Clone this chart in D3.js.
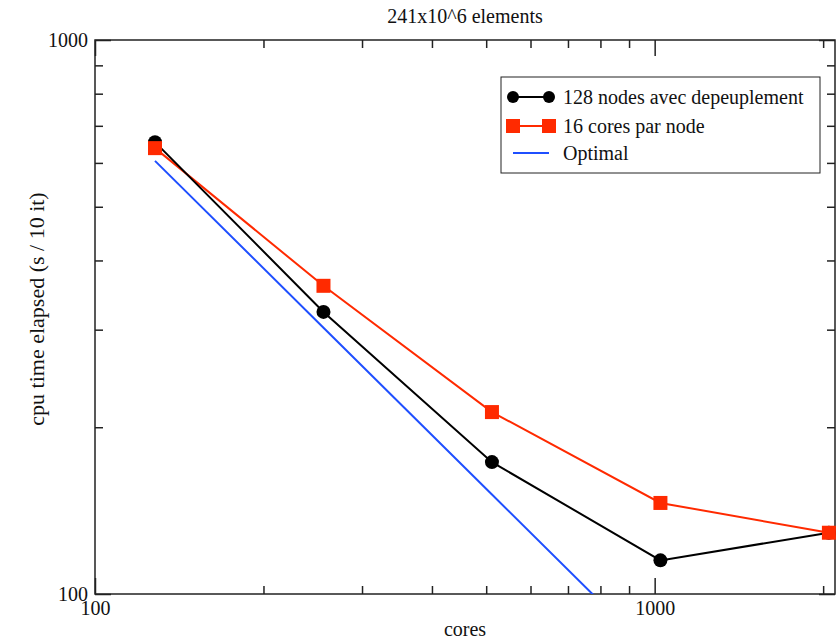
<!DOCTYPE html>
<html>
<head>
<meta charset="utf-8">
<script src="https://cdn.jsdelivr.net/npm/d3@7"></script>
<style>
  body { margin: 0; background: #fff; }
  svg text { font-family: "Liberation Serif", "Times New Roman", serif; fill: #111; }
</style>
</head>
<body>
<div class="plot"></div>
<script>
// data
const cores = [128, 256, 512, 1024, 2048];
const depeuplement = [654, 323, 173, 115, 129];   // 128 nodes avec depeuplement
const fullNode = [638, 360, 213, 146, 129];        // 16 cores par node
const optimal = [605, 302.5, 151.2, 75.6, 37.8];   // Optimal
const seriesNames = ["128 nodes avec depeuplement", "16 cores par node", "Optimal"];
const majorTicks = [100, 1000];
const xMinor = [200, 300, 400, 500, 600, 700, 800, 900, 2000];
const yMinor = [200, 300, 400, 500, 600, 700, 800, 900];

const W = 836, H = 640;
const margin = {top: 40, right: 1, bottom: 46, left: 95};

const svg = d3.select(".plot")
    .append("svg")
        .attr("width", W)
        .attr("height", H);

const x = d3.scaleLog().domain([100, 2100]).range([margin.left, W - margin.right]);
const y = d3.scaleLog().domain([100, 1000]).range([H - margin.bottom, margin.top]);

const red = "#ff2a00", blue = "#1f4fff";

svg.append("clipPath").attr("id", "clip")
    .append("rect")
        .attr("x", x.range()[0]).attr("y", y.range()[1])
        .attr("width", x.range()[1] - x.range()[0])
        .attr("height", y.range()[0] - y.range()[1]);

// axes, ticks pointing inward
const addAxis = function(axis, tx, ty, vals, size, labels) {
    const g = svg.append("g")
        .attr("transform", "translate(" + tx + "," + ty + ")")
        .call(axis.tickValues(vals).tickSize(size).tickPadding(labels ? 9 : 0)
            .tickFormat(labels ? d3.format("d") : ""));
    g.select(".domain").remove();
    g.selectAll("line").attr("stroke", "#222").attr("stroke-width", 1.5);
    g.selectAll("text").style("font-size", "20px").attr("font-family", null);
    return g;
};
const yb = y.range()[0], yt = y.range()[1], xl = x.range()[0], xr = x.range()[1];

addAxis(d3.axisBottom(x), 0, yb, xMinor, -8, false);
const xLab = addAxis(d3.axisBottom(x), 0, yb, majorTicks, -16, true);
xLab.selectAll("text").attr("y", 7);
addAxis(d3.axisTop(x), 0, yt, xMinor, -8, false);
addAxis(d3.axisTop(x), 0, yt, majorTicks, -16, false);
addAxis(d3.axisLeft(y), xl, 0, yMinor, -8, false);
const yLab = addAxis(d3.axisLeft(y), xl, 0, majorTicks, -16, true);
yLab.selectAll("text").attr("x", -7);
addAxis(d3.axisRight(y), xr, 0, yMinor, -8, false);
addAxis(d3.axisRight(y), xr, 0, majorTicks, -16, false);

// frame
svg.append("rect")
    .attr("x", xl).attr("y", yt)
    .attr("width", xr - xl).attr("height", yb - yt)
    .attr("fill", "none").attr("stroke", "#222").attr("stroke-width", 1.5);

// lines
const line = d3.line().x(d => x(d[0])).y(d => y(d[1]));
const plot = svg.append("g").attr("clip-path", "url(#clip)");

plot.append("path")
    .datum(d3.zip(cores, optimal))
    .attr("d", line).attr("fill", "none")
    .attr("stroke", blue).attr("stroke-width", 2);

plot.append("path")
    .datum(d3.zip(cores, fullNode))
    .attr("d", line).attr("fill", "none")
    .attr("stroke", red).attr("stroke-width", 2);

plot.append("path")
    .datum(d3.zip(cores, depeuplement))
    .attr("d", line).attr("fill", "none")
    .attr("stroke", "#000").attr("stroke-width", 2);

// markers (black under red, as in the picture)
svg.append("g").selectAll("circle")
    .data(d3.zip(cores, depeuplement))
    .enter().append("circle")
        .attr("cx", d => x(d[0]))
        .attr("cy", d => y(d[1]))
        .attr("r", 7)
        .attr("fill", "#000");

svg.append("g").selectAll("rect")
    .data(d3.zip(cores, fullNode))
    .enter().append("rect")
        .attr("x", d => x(d[0]) - 7)
        .attr("y", d => y(d[1]) - 7)
        .attr("width", 14).attr("height", 14)
        .attr("fill", red);

// titles
svg.append("text")
    .attr("x", (xl + xr) / 2).attr("y", 23)
    .attr("text-anchor", "middle")
    .style("font-size", "20px")
    .text("241x10^6 elements");

svg.append("text")
    .attr("x", (xl + xr) / 2).attr("y", 636)
    .attr("text-anchor", "middle")
    .style("font-size", "20px")
    .text("cores");

svg.append("text")
    .attr("transform", "translate(44,309) rotate(-90)")
    .attr("text-anchor", "middle")
    .style("font-size", "22px")
    .text("cpu time elapsed (s / 10 it)");

// legend
const leg = svg.append("g").attr("transform", "translate(501,77)");
leg.append("rect")
    .attr("width", 319).attr("height", 96)
    .attr("fill", "#fff").attr("stroke", "#222").attr("stroke-width", 1);

const rows = [20, 49, 76];
const colors = ["#000", red, blue];
rows.forEach((ry, i) => {
    leg.append("line")
        .attr("x1", 12).attr("x2", 48).attr("y1", ry).attr("y2", ry)
        .attr("stroke", colors[i]).attr("stroke-width", 2);
    leg.append("text")
        .attr("x", 62).attr("y", ry).attr("dy", "0.33em")
        .style("font-size", "20px")
        .text(seriesNames[i]);
});
leg.selectAll("circle.l").data([12, 48]).enter().append("circle")
    .attr("cx", d => d).attr("cy", rows[0]).attr("r", 6).attr("fill", "#000");
leg.selectAll("rect.l").data([12, 48]).enter().append("rect")
    .attr("x", d => d - 7).attr("y", rows[1] - 7)
    .attr("width", 14).attr("height", 14).attr("fill", red);
</script>
</body>
</html>
